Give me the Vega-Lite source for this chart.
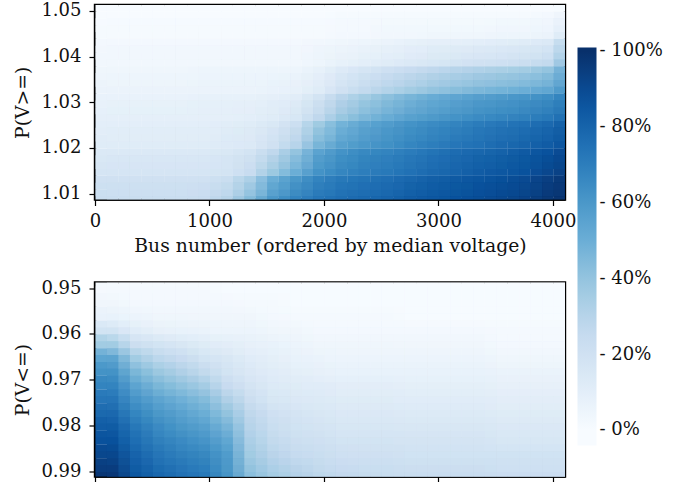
{"$schema":"https://vega.github.io/schema/vega-lite/v6.json","padding":{"left":12,"top":0,"right":0,"bottom":0},"background":"white",
"config":{"font":"DejaVu Serif","view":{"stroke":"#000","strokeWidth":2.4},"axis":{"grid":false,"domainColor":"#000","tickColor":"#000","labelColor":"#111","titleColor":"#111","labelFont":"DejaVu Serif","titleFont":"DejaVu Serif","labelFontSize":18,"titleFontSize":18.8,"titleFontWeight":"normal","tickSize":6,"tickWidth":1.2,"domainWidth":1.3,"labelPadding":3,"labelFlush":false,"zindex":1,"labelOverlap":false},"axisX":{"labelPadding":7},"axisY":{"labelPadding":8}},
"spacing":20.5,"resolve":{"scale":{"color":"shared"}},
"vconcat":[
{"width":470,"height":194.5,"data":{"name":"top"},
"encoding":{"color":{"field":"v","type":"quantitative","scale":{"domain":[-4,0,12.5,25,37.5,50,62.5,75,87.5,100,101],"range":["#f7fbff","#f7fbff","#deebf7","#c6dbef","#9ecae1","#6baed6","#4292c6","#2171b5","#08519c","#08306b","#08306b"]},"legend":{"type":"gradient","orient":"none","legendX":482.5,"legendY":42.5,"title":null,"gradientLength":398,"gradientThickness":19,"gradientOpacity":1,"values":[0,20,40,60,80,100],"labelExpr":"'- '+datum.value+'%'","labelFont":"DejaVu Serif","labelFontSize":18,"labelColor":"#111","labelOffset":3,"gradientStrokeWidth":0}},
"x":{"field":"x","type":"quantitative","bin":{"step":200},"scale":{"domain":[0,4105],"nice":false,"zero":false},"axis":{"values":[0,1000,2000,3000,4000],"format":"d","title":"Bus number (ordered by median voltage)","titlePadding":6}},"y":{"field":"y","type":"quantitative","bin":{"step":0.003},"scale":{"domain":[1.0087,1.0513],"nice":false,"zero":false},"axis":{"values":[1.01,1.02,1.03,1.04,1.05],"format":".2f","title":"P(V>=)","titlePadding":8.5}}},
"layer":[
{"mark":{"type":"rect","clip":true},"encoding":{"x":{"field":"x","type":"quantitative","bin":{"step":200,"anchor":100},"scale":{"domain":[0,4105],"nice":false,"zero":false},"axis":{"values":[0,1000,2000,3000,4000],"format":"d","title":"Bus number (ordered by median voltage)","titlePadding":6}},"y":{"field":"y","type":"quantitative","bin":{"step":0.003,"anchor":1.0095},"scale":{"domain":[1.0087,1.0513],"nice":false,"zero":false},"axis":{"values":[1.01,1.02,1.03,1.04,1.05],"format":".2f","title":"P(V>=)","titlePadding":8.5}}}},
{"mark":{"type":"rect","clip":true}},
{"mark":{"type":"rect","clip":true,"opacity":0.5},"encoding":{"x":{"field":"x","type":"quantitative","bin":{"step":200,"anchor":100},"scale":{"domain":[0,4105],"nice":false,"zero":false},"axis":{"values":[0,1000,2000,3000,4000],"format":"d","title":"Bus number (ordered by median voltage)","titlePadding":6}}}},
{"mark":{"type":"rect","clip":true,"opacity":0.334},"encoding":{"y":{"field":"y","type":"quantitative","bin":{"step":0.003,"anchor":1.0095},"scale":{"domain":[1.0087,1.0513],"nice":false,"zero":false},"axis":{"values":[1.01,1.02,1.03,1.04,1.05],"format":".2f","title":"P(V>=)","titlePadding":8.5}}}},
{"mark":{"type":"rect","clip":true,"opacity":0.25},"encoding":{"x":{"field":"x","type":"quantitative","bin":{"step":200,"anchor":100},"scale":{"domain":[0,4105],"nice":false,"zero":false},"axis":{"values":[0,1000,2000,3000,4000],"format":"d","title":"Bus number (ordered by median voltage)","titlePadding":6}},"y":{"field":"y","type":"quantitative","bin":{"step":0.003,"anchor":1.0095},"scale":{"domain":[1.0087,1.0513],"nice":false,"zero":false},"axis":{"values":[1.01,1.02,1.03,1.04,1.05],"format":".2f","title":"P(V>=)","titlePadding":8.5}}}}
]},
{"width":470,"height":194,"data":{"name":"bottom"},
"encoding":{"color":{"field":"v","type":"quantitative","scale":{"domain":[-4,0,12.5,25,37.5,50,62.5,75,87.5,100,101],"range":["#f7fbff","#f7fbff","#deebf7","#c6dbef","#9ecae1","#6baed6","#4292c6","#2171b5","#08519c","#08306b","#08306b"]},"legend":{"type":"gradient","orient":"none","legendX":482.5,"legendY":42.5,"title":null,"gradientLength":398,"gradientThickness":19,"gradientOpacity":1,"values":[0,20,40,60,80,100],"labelExpr":"'- '+datum.value+'%'","labelFont":"DejaVu Serif","labelFontSize":18,"labelColor":"#111","labelOffset":3,"gradientStrokeWidth":0}},
"x":{"field":"x","type":"quantitative","bin":{"step":200},"scale":{"domain":[0,4105],"nice":false,"zero":false},"axis":{"values":[0,1000,2000,3000,4000],"labels":false,"title":null}},"y":{"field":"y","type":"quantitative","bin":{"step":0.003},"scale":{"domain":[0.9911,0.9488],"nice":false,"zero":false},"axis":{"values":[0.95,0.96,0.97,0.98,0.99],"format":".2f","title":"P(V<=)","titlePadding":8.5}}},
"layer":[
{"mark":{"type":"rect","clip":true},"encoding":{"x":{"field":"x","type":"quantitative","bin":{"step":200,"anchor":100},"scale":{"domain":[0,4105],"nice":false,"zero":false},"axis":{"values":[0,1000,2000,3000,4000],"labels":false,"title":null}},"y":{"field":"y","type":"quantitative","bin":{"step":0.003,"anchor":0.9495},"scale":{"domain":[0.9911,0.9488],"nice":false,"zero":false},"axis":{"values":[0.95,0.96,0.97,0.98,0.99],"format":".2f","title":"P(V<=)","titlePadding":8.5}}}},
{"mark":{"type":"rect","clip":true}},
{"mark":{"type":"rect","clip":true,"opacity":0.5},"encoding":{"x":{"field":"x","type":"quantitative","bin":{"step":200,"anchor":100},"scale":{"domain":[0,4105],"nice":false,"zero":false},"axis":{"values":[0,1000,2000,3000,4000],"labels":false,"title":null}}}},
{"mark":{"type":"rect","clip":true,"opacity":0.334},"encoding":{"y":{"field":"y","type":"quantitative","bin":{"step":0.003,"anchor":0.9495},"scale":{"domain":[0.9911,0.9488],"nice":false,"zero":false},"axis":{"values":[0.95,0.96,0.97,0.98,0.99],"format":".2f","title":"P(V<=)","titlePadding":8.5}}}},
{"mark":{"type":"rect","clip":true,"opacity":0.25},"encoding":{"x":{"field":"x","type":"quantitative","bin":{"step":200,"anchor":100},"scale":{"domain":[0,4105],"nice":false,"zero":false},"axis":{"values":[0,1000,2000,3000,4000],"labels":false,"title":null}},"y":{"field":"y","type":"quantitative","bin":{"step":0.003,"anchor":0.9495},"scale":{"domain":[0.9911,0.9488],"nice":false,"zero":false},"axis":{"values":[0.95,0.96,0.97,0.98,0.99],"format":".2f","title":"P(V<=)","titlePadding":8.5}}}}
]}
],
"datasets":{"top":[
{"x":100,"y":1.0095,"v":23},{"x":100,"y":1.0125,"v":20},{"x":100,"y":1.0155,"v":17},{"x":100,"y":1.0185,"v":14},{"x":100,"y":1.0215,"v":12},{"x":100,"y":1.0245,"v":10},{"x":100,"y":1.0275,"v":9},{"x":100,"y":1.0305,"v":7},{"x":100,"y":1.0335,"v":6},{"x":100,"y":1.0365,"v":4},{"x":100,"y":1.0395,"v":3},{"x":100,"y":1.0425,"v":2},{"x":100,"y":1.0455,"v":1},{"x":100,"y":1.0485,"v":0},{"x":100,"y":1.0515,"v":0},
{"x":300,"y":1.0095,"v":23},{"x":300,"y":1.0125,"v":20},{"x":300,"y":1.0155,"v":17},{"x":300,"y":1.0185,"v":14},{"x":300,"y":1.0215,"v":12},{"x":300,"y":1.0245,"v":10},{"x":300,"y":1.0275,"v":9},{"x":300,"y":1.0305,"v":7},{"x":300,"y":1.0335,"v":6},{"x":300,"y":1.0365,"v":4},{"x":300,"y":1.0395,"v":3},{"x":300,"y":1.0425,"v":2},{"x":300,"y":1.0455,"v":1},{"x":300,"y":1.0485,"v":0},{"x":300,"y":1.0515,"v":0},
{"x":500,"y":1.0095,"v":23},{"x":500,"y":1.0125,"v":20},{"x":500,"y":1.0155,"v":17},{"x":500,"y":1.0185,"v":14},{"x":500,"y":1.0215,"v":12},{"x":500,"y":1.0245,"v":10},{"x":500,"y":1.0275,"v":9},{"x":500,"y":1.0305,"v":7},{"x":500,"y":1.0335,"v":6},{"x":500,"y":1.0365,"v":4},{"x":500,"y":1.0395,"v":3},{"x":500,"y":1.0425,"v":2},{"x":500,"y":1.0455,"v":1},{"x":500,"y":1.0485,"v":0},{"x":500,"y":1.0515,"v":0},
{"x":700,"y":1.0095,"v":23},{"x":700,"y":1.0125,"v":20},{"x":700,"y":1.0155,"v":17},{"x":700,"y":1.0185,"v":14},{"x":700,"y":1.0215,"v":12},{"x":700,"y":1.0245,"v":10},{"x":700,"y":1.0275,"v":9},{"x":700,"y":1.0305,"v":7},{"x":700,"y":1.0335,"v":6},{"x":700,"y":1.0365,"v":4},{"x":700,"y":1.0395,"v":3},{"x":700,"y":1.0425,"v":2},{"x":700,"y":1.0455,"v":1},{"x":700,"y":1.0485,"v":0},{"x":700,"y":1.0515,"v":0},
{"x":900,"y":1.0095,"v":24},{"x":900,"y":1.0125,"v":20},{"x":900,"y":1.0155,"v":17},{"x":900,"y":1.0185,"v":14},{"x":900,"y":1.0215,"v":12},{"x":900,"y":1.0245,"v":10},{"x":900,"y":1.0275,"v":9},{"x":900,"y":1.0305,"v":8},{"x":900,"y":1.0335,"v":6},{"x":900,"y":1.0365,"v":5},{"x":900,"y":1.0395,"v":3},{"x":900,"y":1.0425,"v":2},{"x":900,"y":1.0455,"v":1},{"x":900,"y":1.0485,"v":0},{"x":900,"y":1.0515,"v":0},
{"x":1100,"y":1.0095,"v":30},{"x":1100,"y":1.0125,"v":23},{"x":1100,"y":1.0155,"v":18},{"x":1100,"y":1.0185,"v":15},{"x":1100,"y":1.0215,"v":13},{"x":1100,"y":1.0245,"v":11},{"x":1100,"y":1.0275,"v":9},{"x":1100,"y":1.0305,"v":8},{"x":1100,"y":1.0335,"v":6},{"x":1100,"y":1.0365,"v":5},{"x":1100,"y":1.0395,"v":3},{"x":1100,"y":1.0425,"v":2},{"x":1100,"y":1.0455,"v":1},{"x":1100,"y":1.0485,"v":0},{"x":1100,"y":1.0515,"v":0},
{"x":1300,"y":1.0095,"v":44},{"x":1300,"y":1.0125,"v":33},{"x":1300,"y":1.0155,"v":24},{"x":1300,"y":1.0185,"v":18},{"x":1300,"y":1.0215,"v":14},{"x":1300,"y":1.0245,"v":12},{"x":1300,"y":1.0275,"v":10},{"x":1300,"y":1.0305,"v":8},{"x":1300,"y":1.0335,"v":6},{"x":1300,"y":1.0365,"v":5},{"x":1300,"y":1.0395,"v":3},{"x":1300,"y":1.0425,"v":2},{"x":1300,"y":1.0455,"v":1},{"x":1300,"y":1.0485,"v":0},{"x":1300,"y":1.0515,"v":0},
{"x":1500,"y":1.0095,"v":60},{"x":1500,"y":1.0125,"v":50},{"x":1500,"y":1.0155,"v":38},{"x":1500,"y":1.0185,"v":27},{"x":1500,"y":1.0215,"v":20},{"x":1500,"y":1.0245,"v":15},{"x":1500,"y":1.0275,"v":12},{"x":1500,"y":1.0305,"v":9},{"x":1500,"y":1.0335,"v":7},{"x":1500,"y":1.0365,"v":5},{"x":1500,"y":1.0395,"v":3},{"x":1500,"y":1.0425,"v":2},{"x":1500,"y":1.0455,"v":1},{"x":1500,"y":1.0485,"v":0},{"x":1500,"y":1.0515,"v":0},
{"x":1700,"y":1.0095,"v":68},{"x":1700,"y":1.0125,"v":60},{"x":1700,"y":1.0155,"v":50},{"x":1700,"y":1.0185,"v":40},{"x":1700,"y":1.0215,"v":30},{"x":1700,"y":1.0245,"v":22},{"x":1700,"y":1.0275,"v":16},{"x":1700,"y":1.0305,"v":11},{"x":1700,"y":1.0335,"v":8},{"x":1700,"y":1.0365,"v":5},{"x":1700,"y":1.0395,"v":3},{"x":1700,"y":1.0425,"v":2},{"x":1700,"y":1.0455,"v":1},{"x":1700,"y":1.0485,"v":0},{"x":1700,"y":1.0515,"v":0},
{"x":1900,"y":1.0095,"v":73},{"x":1900,"y":1.0125,"v":68},{"x":1900,"y":1.0155,"v":62},{"x":1900,"y":1.0185,"v":55},{"x":1900,"y":1.0215,"v":47},{"x":1900,"y":1.0245,"v":37},{"x":1900,"y":1.0275,"v":27},{"x":1900,"y":1.0305,"v":18},{"x":1900,"y":1.0335,"v":12},{"x":1900,"y":1.0365,"v":8},{"x":1900,"y":1.0395,"v":5},{"x":1900,"y":1.0425,"v":3},{"x":1900,"y":1.0455,"v":1},{"x":1900,"y":1.0485,"v":0},{"x":1900,"y":1.0515,"v":0},
{"x":2100,"y":1.0095,"v":76},{"x":2100,"y":1.0125,"v":72},{"x":2100,"y":1.0155,"v":67},{"x":2100,"y":1.0185,"v":62},{"x":2100,"y":1.0215,"v":56},{"x":2100,"y":1.0245,"v":48},{"x":2100,"y":1.0275,"v":39},{"x":2100,"y":1.0305,"v":29},{"x":2100,"y":1.0335,"v":20},{"x":2100,"y":1.0365,"v":13},{"x":2100,"y":1.0395,"v":8},{"x":2100,"y":1.0425,"v":4},{"x":2100,"y":1.0455,"v":2},{"x":2100,"y":1.0485,"v":1},{"x":2100,"y":1.0515,"v":0},
{"x":2300,"y":1.0095,"v":78},{"x":2300,"y":1.0125,"v":74},{"x":2300,"y":1.0155,"v":70},{"x":2300,"y":1.0185,"v":66},{"x":2300,"y":1.0215,"v":60},{"x":2300,"y":1.0245,"v":54},{"x":2300,"y":1.0275,"v":46},{"x":2300,"y":1.0305,"v":36},{"x":2300,"y":1.0335,"v":26},{"x":2300,"y":1.0365,"v":17},{"x":2300,"y":1.0395,"v":10},{"x":2300,"y":1.0425,"v":5},{"x":2300,"y":1.0455,"v":2},{"x":2300,"y":1.0485,"v":1},{"x":2300,"y":1.0515,"v":0},
{"x":2500,"y":1.0095,"v":80},{"x":2500,"y":1.0125,"v":76},{"x":2500,"y":1.0155,"v":72},{"x":2500,"y":1.0185,"v":68},{"x":2500,"y":1.0215,"v":63},{"x":2500,"y":1.0245,"v":58},{"x":2500,"y":1.0275,"v":51},{"x":2500,"y":1.0305,"v":42},{"x":2500,"y":1.0335,"v":31},{"x":2500,"y":1.0365,"v":21},{"x":2500,"y":1.0395,"v":12},{"x":2500,"y":1.0425,"v":6},{"x":2500,"y":1.0455,"v":3},{"x":2500,"y":1.0485,"v":1},{"x":2500,"y":1.0515,"v":0},
{"x":2700,"y":1.0095,"v":83},{"x":2700,"y":1.0125,"v":79},{"x":2700,"y":1.0155,"v":75},{"x":2700,"y":1.0185,"v":71},{"x":2700,"y":1.0215,"v":67},{"x":2700,"y":1.0245,"v":62},{"x":2700,"y":1.0275,"v":56},{"x":2700,"y":1.0305,"v":47},{"x":2700,"y":1.0335,"v":36},{"x":2700,"y":1.0365,"v":24},{"x":2700,"y":1.0395,"v":14},{"x":2700,"y":1.0425,"v":8},{"x":2700,"y":1.0455,"v":3},{"x":2700,"y":1.0485,"v":1},{"x":2700,"y":1.0515,"v":0},
{"x":2900,"y":1.0095,"v":85},{"x":2900,"y":1.0125,"v":82},{"x":2900,"y":1.0155,"v":78},{"x":2900,"y":1.0185,"v":74},{"x":2900,"y":1.0215,"v":70},{"x":2900,"y":1.0245,"v":65},{"x":2900,"y":1.0275,"v":59},{"x":2900,"y":1.0305,"v":51},{"x":2900,"y":1.0335,"v":40},{"x":2900,"y":1.0365,"v":27},{"x":2900,"y":1.0395,"v":16},{"x":2900,"y":1.0425,"v":9},{"x":2900,"y":1.0455,"v":4},{"x":2900,"y":1.0485,"v":1},{"x":2900,"y":1.0515,"v":0},
{"x":3100,"y":1.0095,"v":87},{"x":3100,"y":1.0125,"v":84},{"x":3100,"y":1.0155,"v":80},{"x":3100,"y":1.0185,"v":77},{"x":3100,"y":1.0215,"v":73},{"x":3100,"y":1.0245,"v":68},{"x":3100,"y":1.0275,"v":62},{"x":3100,"y":1.0305,"v":54},{"x":3100,"y":1.0335,"v":43},{"x":3100,"y":1.0365,"v":30},{"x":3100,"y":1.0395,"v":18},{"x":3100,"y":1.0425,"v":9},{"x":3100,"y":1.0455,"v":4},{"x":3100,"y":1.0485,"v":1},{"x":3100,"y":1.0515,"v":0},
{"x":3300,"y":1.0095,"v":89},{"x":3300,"y":1.0125,"v":86},{"x":3300,"y":1.0155,"v":83},{"x":3300,"y":1.0185,"v":79},{"x":3300,"y":1.0215,"v":75},{"x":3300,"y":1.0245,"v":71},{"x":3300,"y":1.0275,"v":65},{"x":3300,"y":1.0305,"v":57},{"x":3300,"y":1.0335,"v":46},{"x":3300,"y":1.0365,"v":32},{"x":3300,"y":1.0395,"v":20},{"x":3300,"y":1.0425,"v":10},{"x":3300,"y":1.0455,"v":4},{"x":3300,"y":1.0485,"v":1},{"x":3300,"y":1.0515,"v":0},
{"x":3500,"y":1.0095,"v":91},{"x":3500,"y":1.0125,"v":88},{"x":3500,"y":1.0155,"v":85},{"x":3500,"y":1.0185,"v":81},{"x":3500,"y":1.0215,"v":78},{"x":3500,"y":1.0245,"v":73},{"x":3500,"y":1.0275,"v":67},{"x":3500,"y":1.0305,"v":59},{"x":3500,"y":1.0335,"v":48},{"x":3500,"y":1.0365,"v":34},{"x":3500,"y":1.0395,"v":21},{"x":3500,"y":1.0425,"v":11},{"x":3500,"y":1.0455,"v":5},{"x":3500,"y":1.0485,"v":1},{"x":3500,"y":1.0515,"v":0},
{"x":3700,"y":1.0095,"v":93},{"x":3700,"y":1.0125,"v":90},{"x":3700,"y":1.0155,"v":87},{"x":3700,"y":1.0185,"v":84},{"x":3700,"y":1.0215,"v":80},{"x":3700,"y":1.0245,"v":75},{"x":3700,"y":1.0275,"v":69},{"x":3700,"y":1.0305,"v":61},{"x":3700,"y":1.0335,"v":50},{"x":3700,"y":1.0365,"v":36},{"x":3700,"y":1.0395,"v":23},{"x":3700,"y":1.0425,"v":12},{"x":3700,"y":1.0455,"v":5},{"x":3700,"y":1.0485,"v":1},{"x":3700,"y":1.0515,"v":0},
{"x":3900,"y":1.0095,"v":97},{"x":3900,"y":1.0125,"v":94},{"x":3900,"y":1.0155,"v":91},{"x":3900,"y":1.0185,"v":87},{"x":3900,"y":1.0215,"v":83},{"x":3900,"y":1.0245,"v":78},{"x":3900,"y":1.0275,"v":72},{"x":3900,"y":1.0305,"v":64},{"x":3900,"y":1.0335,"v":53},{"x":3900,"y":1.0365,"v":40},{"x":3900,"y":1.0395,"v":26},{"x":3900,"y":1.0425,"v":14},{"x":3900,"y":1.0455,"v":6},{"x":3900,"y":1.0485,"v":2},{"x":3900,"y":1.0515,"v":0},
{"x":4100,"y":1.0095,"v":100},{"x":4100,"y":1.0125,"v":98},{"x":4100,"y":1.0155,"v":95},{"x":4100,"y":1.0185,"v":92},{"x":4100,"y":1.0215,"v":88},{"x":4100,"y":1.0245,"v":84},{"x":4100,"y":1.0275,"v":78},{"x":4100,"y":1.0305,"v":71},{"x":4100,"y":1.0335,"v":64},{"x":4100,"y":1.0365,"v":56},{"x":4100,"y":1.0395,"v":46},{"x":4100,"y":1.0425,"v":32},{"x":4100,"y":1.0455,"v":18},{"x":4100,"y":1.0485,"v":6},{"x":4100,"y":1.0515,"v":1}
],"bottom":[
{"x":100,"y":0.9495,"v":1},{"x":100,"y":0.9525,"v":3},{"x":100,"y":0.9555,"v":7},{"x":100,"y":0.9585,"v":18},{"x":100,"y":0.9615,"v":36},{"x":100,"y":0.9645,"v":54},{"x":100,"y":0.9675,"v":62},{"x":100,"y":0.9705,"v":68},{"x":100,"y":0.9735,"v":73},{"x":100,"y":0.9765,"v":78},{"x":100,"y":0.9795,"v":83},{"x":100,"y":0.9825,"v":87},{"x":100,"y":0.9855,"v":91},{"x":100,"y":0.9885,"v":95},{"x":100,"y":0.9915,"v":99},
{"x":300,"y":0.9495,"v":1},{"x":300,"y":0.9525,"v":2},{"x":300,"y":0.9555,"v":5},{"x":300,"y":0.9585,"v":11},{"x":300,"y":0.9615,"v":22},{"x":300,"y":0.9645,"v":36},{"x":300,"y":0.9675,"v":46},{"x":300,"y":0.9705,"v":54},{"x":300,"y":0.9735,"v":61},{"x":300,"y":0.9765,"v":67},{"x":300,"y":0.9795,"v":72},{"x":300,"y":0.9825,"v":76},{"x":300,"y":0.9855,"v":80},{"x":300,"y":0.9885,"v":83},{"x":300,"y":0.9915,"v":86},
{"x":500,"y":0.9495,"v":1},{"x":500,"y":0.9525,"v":2},{"x":500,"y":0.9555,"v":4},{"x":500,"y":0.9585,"v":8},{"x":500,"y":0.9615,"v":18},{"x":500,"y":0.9645,"v":28},{"x":500,"y":0.9675,"v":38},{"x":500,"y":0.9705,"v":46},{"x":500,"y":0.9735,"v":54},{"x":500,"y":0.9765,"v":60},{"x":500,"y":0.9795,"v":65},{"x":500,"y":0.9825,"v":69},{"x":500,"y":0.9855,"v":73},{"x":500,"y":0.9885,"v":77},{"x":500,"y":0.9915,"v":80},
{"x":700,"y":0.9495,"v":1},{"x":700,"y":0.9525,"v":2},{"x":700,"y":0.9555,"v":4},{"x":700,"y":0.9585,"v":7},{"x":700,"y":0.9615,"v":15},{"x":700,"y":0.9645,"v":24},{"x":700,"y":0.9675,"v":32},{"x":700,"y":0.9705,"v":41},{"x":700,"y":0.9735,"v":49},{"x":700,"y":0.9765,"v":55},{"x":700,"y":0.9795,"v":60},{"x":700,"y":0.9825,"v":65},{"x":700,"y":0.9855,"v":69},{"x":700,"y":0.9885,"v":73},{"x":700,"y":0.9915,"v":77},
{"x":900,"y":0.9495,"v":1},{"x":900,"y":0.9525,"v":2},{"x":900,"y":0.9555,"v":3},{"x":900,"y":0.9585,"v":6},{"x":900,"y":0.9615,"v":12},{"x":900,"y":0.9645,"v":18},{"x":900,"y":0.9675,"v":26},{"x":900,"y":0.9705,"v":35},{"x":900,"y":0.9735,"v":44},{"x":900,"y":0.9765,"v":50},{"x":900,"y":0.9795,"v":56},{"x":900,"y":0.9825,"v":61},{"x":900,"y":0.9855,"v":66},{"x":900,"y":0.9885,"v":70},{"x":900,"y":0.9915,"v":74},
{"x":1100,"y":0.9495,"v":0},{"x":1100,"y":0.9525,"v":2},{"x":1100,"y":0.9555,"v":3},{"x":1100,"y":0.9585,"v":5},{"x":1100,"y":0.9615,"v":10},{"x":1100,"y":0.9645,"v":15},{"x":1100,"y":0.9675,"v":18},{"x":1100,"y":0.9705,"v":24},{"x":1100,"y":0.9735,"v":32},{"x":1100,"y":0.9765,"v":40},{"x":1100,"y":0.9795,"v":47},{"x":1100,"y":0.9825,"v":53},{"x":1100,"y":0.9855,"v":58},{"x":1100,"y":0.9885,"v":60},{"x":1100,"y":0.9915,"v":62},
{"x":1300,"y":0.9495,"v":0},{"x":1300,"y":0.9525,"v":1},{"x":1300,"y":0.9555,"v":3},{"x":1300,"y":0.9585,"v":5},{"x":1300,"y":0.9615,"v":8},{"x":1300,"y":0.9645,"v":11},{"x":1300,"y":0.9675,"v":14},{"x":1300,"y":0.9705,"v":17},{"x":1300,"y":0.9735,"v":22},{"x":1300,"y":0.9765,"v":27},{"x":1300,"y":0.9795,"v":30},{"x":1300,"y":0.9825,"v":33},{"x":1300,"y":0.9855,"v":36},{"x":1300,"y":0.9885,"v":40},{"x":1300,"y":0.9915,"v":44},
{"x":1500,"y":0.9495,"v":0},{"x":1500,"y":0.9525,"v":1},{"x":1500,"y":0.9555,"v":2},{"x":1500,"y":0.9585,"v":4},{"x":1500,"y":0.9615,"v":7},{"x":1500,"y":0.9645,"v":9},{"x":1500,"y":0.9675,"v":11},{"x":1500,"y":0.9705,"v":13},{"x":1500,"y":0.9735,"v":16},{"x":1500,"y":0.9765,"v":20},{"x":1500,"y":0.9795,"v":23},{"x":1500,"y":0.9825,"v":26},{"x":1500,"y":0.9855,"v":29},{"x":1500,"y":0.9885,"v":33},{"x":1500,"y":0.9915,"v":37},
{"x":1700,"y":0.9495,"v":0},{"x":1700,"y":0.9525,"v":0},{"x":1700,"y":0.9555,"v":1},{"x":1700,"y":0.9585,"v":3},{"x":1700,"y":0.9615,"v":5},{"x":1700,"y":0.9645,"v":7},{"x":1700,"y":0.9675,"v":9},{"x":1700,"y":0.9705,"v":12},{"x":1700,"y":0.9735,"v":14},{"x":1700,"y":0.9765,"v":17},{"x":1700,"y":0.9795,"v":19},{"x":1700,"y":0.9825,"v":22},{"x":1700,"y":0.9855,"v":25},{"x":1700,"y":0.9885,"v":29},{"x":1700,"y":0.9915,"v":32},
{"x":1900,"y":0.9495,"v":0},{"x":1900,"y":0.9525,"v":0},{"x":1900,"y":0.9555,"v":1},{"x":1900,"y":0.9585,"v":2},{"x":1900,"y":0.9615,"v":4},{"x":1900,"y":0.9645,"v":6},{"x":1900,"y":0.9675,"v":8},{"x":1900,"y":0.9705,"v":11},{"x":1900,"y":0.9735,"v":13},{"x":1900,"y":0.9765,"v":15},{"x":1900,"y":0.9795,"v":17},{"x":1900,"y":0.9825,"v":20},{"x":1900,"y":0.9855,"v":23},{"x":1900,"y":0.9885,"v":26},{"x":1900,"y":0.9915,"v":29},
{"x":2100,"y":0.9495,"v":0},{"x":2100,"y":0.9525,"v":0},{"x":2100,"y":0.9555,"v":1},{"x":2100,"y":0.9585,"v":2},{"x":2100,"y":0.9615,"v":4},{"x":2100,"y":0.9645,"v":5},{"x":2100,"y":0.9675,"v":7},{"x":2100,"y":0.9705,"v":10},{"x":2100,"y":0.9735,"v":12},{"x":2100,"y":0.9765,"v":14},{"x":2100,"y":0.9795,"v":16},{"x":2100,"y":0.9825,"v":18},{"x":2100,"y":0.9855,"v":21},{"x":2100,"y":0.9885,"v":24},{"x":2100,"y":0.9915,"v":27},
{"x":2300,"y":0.9495,"v":0},{"x":2300,"y":0.9525,"v":0},{"x":2300,"y":0.9555,"v":1},{"x":2300,"y":0.9585,"v":2},{"x":2300,"y":0.9615,"v":4},{"x":2300,"y":0.9645,"v":5},{"x":2300,"y":0.9675,"v":7},{"x":2300,"y":0.9705,"v":10},{"x":2300,"y":0.9735,"v":12},{"x":2300,"y":0.9765,"v":14},{"x":2300,"y":0.9795,"v":16},{"x":2300,"y":0.9825,"v":18},{"x":2300,"y":0.9855,"v":20},{"x":2300,"y":0.9885,"v":23},{"x":2300,"y":0.9915,"v":26},
{"x":2500,"y":0.9495,"v":0},{"x":2500,"y":0.9525,"v":0},{"x":2500,"y":0.9555,"v":1},{"x":2500,"y":0.9585,"v":2},{"x":2500,"y":0.9615,"v":4},{"x":2500,"y":0.9645,"v":5},{"x":2500,"y":0.9675,"v":7},{"x":2500,"y":0.9705,"v":10},{"x":2500,"y":0.9735,"v":12},{"x":2500,"y":0.9765,"v":14},{"x":2500,"y":0.9795,"v":16},{"x":2500,"y":0.9825,"v":18},{"x":2500,"y":0.9855,"v":20},{"x":2500,"y":0.9885,"v":23},{"x":2500,"y":0.9915,"v":25},
{"x":2700,"y":0.9495,"v":0},{"x":2700,"y":0.9525,"v":0},{"x":2700,"y":0.9555,"v":0},{"x":2700,"y":0.9585,"v":2},{"x":2700,"y":0.9615,"v":3},{"x":2700,"y":0.9645,"v":5},{"x":2700,"y":0.9675,"v":7},{"x":2700,"y":0.9705,"v":9},{"x":2700,"y":0.9735,"v":11},{"x":2700,"y":0.9765,"v":13},{"x":2700,"y":0.9795,"v":15},{"x":2700,"y":0.9825,"v":17},{"x":2700,"y":0.9855,"v":19},{"x":2700,"y":0.9885,"v":22},{"x":2700,"y":0.9915,"v":25},
{"x":2900,"y":0.9495,"v":0},{"x":2900,"y":0.9525,"v":0},{"x":2900,"y":0.9555,"v":0},{"x":2900,"y":0.9585,"v":2},{"x":2900,"y":0.9615,"v":3},{"x":2900,"y":0.9645,"v":5},{"x":2900,"y":0.9675,"v":7},{"x":2900,"y":0.9705,"v":9},{"x":2900,"y":0.9735,"v":11},{"x":2900,"y":0.9765,"v":13},{"x":2900,"y":0.9795,"v":15},{"x":2900,"y":0.9825,"v":17},{"x":2900,"y":0.9855,"v":19},{"x":2900,"y":0.9885,"v":22},{"x":2900,"y":0.9915,"v":24},
{"x":3100,"y":0.9495,"v":0},{"x":3100,"y":0.9525,"v":0},{"x":3100,"y":0.9555,"v":0},{"x":3100,"y":0.9585,"v":2},{"x":3100,"y":0.9615,"v":3},{"x":3100,"y":0.9645,"v":5},{"x":3100,"y":0.9675,"v":7},{"x":3100,"y":0.9705,"v":9},{"x":3100,"y":0.9735,"v":11},{"x":3100,"y":0.9765,"v":13},{"x":3100,"y":0.9795,"v":15},{"x":3100,"y":0.9825,"v":17},{"x":3100,"y":0.9855,"v":19},{"x":3100,"y":0.9885,"v":22},{"x":3100,"y":0.9915,"v":24},
{"x":3300,"y":0.9495,"v":0},{"x":3300,"y":0.9525,"v":0},{"x":3300,"y":0.9555,"v":0},{"x":3300,"y":0.9585,"v":2},{"x":3300,"y":0.9615,"v":3},{"x":3300,"y":0.9645,"v":5},{"x":3300,"y":0.9675,"v":7},{"x":3300,"y":0.9705,"v":9},{"x":3300,"y":0.9735,"v":11},{"x":3300,"y":0.9765,"v":13},{"x":3300,"y":0.9795,"v":15},{"x":3300,"y":0.9825,"v":17},{"x":3300,"y":0.9855,"v":19},{"x":3300,"y":0.9885,"v":22},{"x":3300,"y":0.9915,"v":24},
{"x":3500,"y":0.9495,"v":0},{"x":3500,"y":0.9525,"v":0},{"x":3500,"y":0.9555,"v":0},{"x":3500,"y":0.9585,"v":1},{"x":3500,"y":0.9615,"v":2},{"x":3500,"y":0.9645,"v":4},{"x":3500,"y":0.9675,"v":6},{"x":3500,"y":0.9705,"v":8},{"x":3500,"y":0.9735,"v":10},{"x":3500,"y":0.9765,"v":12},{"x":3500,"y":0.9795,"v":14},{"x":3500,"y":0.9825,"v":16},{"x":3500,"y":0.9855,"v":19},{"x":3500,"y":0.9885,"v":21},{"x":3500,"y":0.9915,"v":24},
{"x":3700,"y":0.9495,"v":0},{"x":3700,"y":0.9525,"v":0},{"x":3700,"y":0.9555,"v":0},{"x":3700,"y":0.9585,"v":1},{"x":3700,"y":0.9615,"v":2},{"x":3700,"y":0.9645,"v":4},{"x":3700,"y":0.9675,"v":6},{"x":3700,"y":0.9705,"v":8},{"x":3700,"y":0.9735,"v":10},{"x":3700,"y":0.9765,"v":12},{"x":3700,"y":0.9795,"v":14},{"x":3700,"y":0.9825,"v":16},{"x":3700,"y":0.9855,"v":19},{"x":3700,"y":0.9885,"v":21},{"x":3700,"y":0.9915,"v":24},
{"x":3900,"y":0.9495,"v":0},{"x":3900,"y":0.9525,"v":0},{"x":3900,"y":0.9555,"v":0},{"x":3900,"y":0.9585,"v":1},{"x":3900,"y":0.9615,"v":2},{"x":3900,"y":0.9645,"v":4},{"x":3900,"y":0.9675,"v":6},{"x":3900,"y":0.9705,"v":8},{"x":3900,"y":0.9735,"v":10},{"x":3900,"y":0.9765,"v":12},{"x":3900,"y":0.9795,"v":14},{"x":3900,"y":0.9825,"v":16},{"x":3900,"y":0.9855,"v":19},{"x":3900,"y":0.9885,"v":21},{"x":3900,"y":0.9915,"v":24},
{"x":4100,"y":0.9495,"v":0},{"x":4100,"y":0.9525,"v":0},{"x":4100,"y":0.9555,"v":0},{"x":4100,"y":0.9585,"v":1},{"x":4100,"y":0.9615,"v":2},{"x":4100,"y":0.9645,"v":4},{"x":4100,"y":0.9675,"v":6},{"x":4100,"y":0.9705,"v":8},{"x":4100,"y":0.9735,"v":10},{"x":4100,"y":0.9765,"v":12},{"x":4100,"y":0.9795,"v":14},{"x":4100,"y":0.9825,"v":16},{"x":4100,"y":0.9855,"v":19},{"x":4100,"y":0.9885,"v":21},{"x":4100,"y":0.9915,"v":24}
]}}
